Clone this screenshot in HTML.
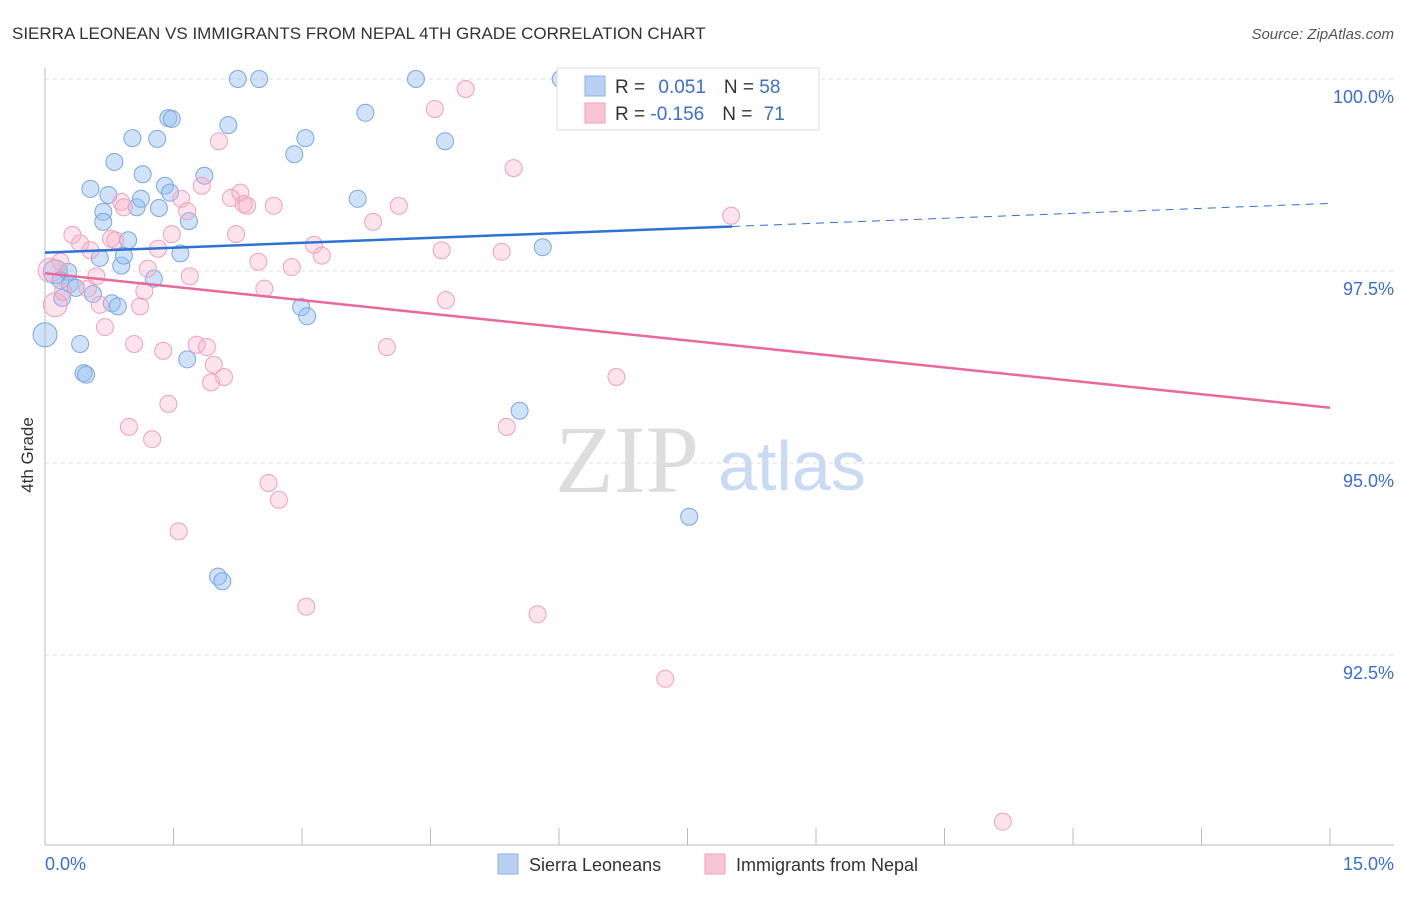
<!DOCTYPE html>
<html><head><meta charset="utf-8"><style>
body{margin:0;background:#fff;font-family:"Liberation Sans",sans-serif;}
svg text{font-family:"Liberation Sans",sans-serif;}
</style></head><body>
<svg id="chart" width="1406" height="892" viewBox="0 0 1406 892">
<text x="12" y="39" font-size="17" fill="#333">SIERRA LEONEAN VS IMMIGRANTS FROM NEPAL 4TH GRADE CORRELATION CHART</text>
<text x="1394" y="39" font-size="15" fill="#555" text-anchor="end" font-style="italic">Source: ZipAtlas.com</text>
<text transform="translate(33,455) rotate(-90)" font-size="17" fill="#333" text-anchor="middle">4th Grade</text>
<g id="grid"></g>
<g id="axes"></g>
<text x="555" y="492" font-size="96" fill="#ddd" font-family="Liberation Serif" style="font-family:'Liberation Serif',serif">ZIP</text>
<text x="718" y="490" font-size="70" fill="#c9daf3">atlas</text>
<g id="pts"></g>
<g id="lines"></g>
<g>
<rect x="557" y="68" width="262" height="62" fill="#fff" stroke="#ddd"/>
<rect x="585" y="76" width="20" height="20" fill="#b8d1f3" stroke="#8ab0e6"/>
<rect x="585" y="103" width="20" height="20" fill="#f8c5d5" stroke="#f0a0bc"/>
<text x="615" y="93" font-size="19" fill="#333">R = <tspan fill="#3a6fd0" dx="8">0.051</tspan><tspan dx="18" fill="#333">N = </tspan><tspan fill="#3a6fd0">58</tspan></text>
<text x="615" y="120" font-size="19" fill="#333">R = <tspan fill="#3a6fd0">-0.156</tspan><tspan dx="18" fill="#333">N = </tspan><tspan fill="#3a6fd0" dx="6">71</tspan></text>
</g>
<g>
<rect x="498" y="854" width="20" height="20" fill="#b8d1f3" stroke="#8ab0e6"/>
<text x="529" y="871" font-size="18" fill="#333">Sierra Leoneans</text>
<rect x="705" y="854" width="20" height="20" fill="#f8c5d5" stroke="#f0a0bc"/>
<text x="736" y="871" font-size="18" fill="#333">Immigrants from Nepal</text>
</g>
</svg>
<script>
const xTicks=[0,1.5,3,4.5,6,7.5,9,10.5,12,13.5,15];
const yTicks=[100,97.5,95,92.5];
const yTickLabels=["100.0%","97.5%","95.0%","92.5%"];
const blueX=[0,0.12,0.18,0.2,0.27,0.29,0.36,0.41,0.45,0.48,0.53,0.56,0.64,0.68,0.68,0.74,0.78,0.81,0.85,0.89,0.92,0.97,1.02,1.07,1.12,1.14,1.27,1.31,1.33,1.4,1.44,1.46,1.48,1.58,1.66,1.68,1.86,2.02,2.07,2.14,2.25,2.5,2.91,2.99,3.04,3.06,3.65,3.74,4.33,4.67,5.54,5.81,6.02,7.52];
const blueY=[96.67,97.49,97.38,97.15,97.49,97.33,97.28,96.55,96.17,96.15,98.57,97.2,97.67,98.27,98.14,98.49,97.08,98.92,97.04,97.57,97.7,97.9,99.23,98.33,98.44,98.76,97.4,99.22,98.32,98.61,99.49,98.52,99.48,97.73,96.35,98.15,98.74,93.52,93.46,99.4,100,100,99.02,97.03,99.23,96.91,98.44,99.56,100,99.19,95.68,97.81,100,94.3];
const pinkX=[0.06,0.12,0.18,0.21,0.32,0.41,0.5,0.53,0.6,0.64,0.7,0.77,0.82,0.89,0.92,0.98,1.04,1.11,1.16,1.2,1.25,1.32,1.38,1.44,1.48,1.56,1.59,1.66,1.69,1.77,1.83,1.89,1.94,1.97,2.03,2.09,2.17,2.23,2.28,2.32,2.36,2.49,2.56,2.61,2.67,2.73,2.88,3.05,3.14,3.23,3.83,3.99,4.13,4.55,4.63,4.68,4.91,5.33,5.39,5.47,5.75,6.2,6.32,6.67,7.13,7.24,8.01,11.18];
const pinkY=[97.51,97.06,97.62,97.23,97.97,97.86,97.27,97.77,97.43,97.06,96.77,97.92,97.9,98.4,98.33,95.47,96.55,97.04,97.24,97.53,95.31,97.79,96.46,95.77,97.98,94.11,98.44,98.28,97.43,96.54,98.61,96.51,96.05,96.28,99.19,96.12,98.45,97.98,98.52,98.37,98.35,97.62,97.27,94.74,98.35,94.52,97.55,93.13,97.84,97.7,98.14,96.51,98.35,99.61,97.77,97.12,99.87,97.75,95.47,98.84,93.03,100,99.69,96.12,100,92.19,98.22,90.33];
const blueTrend=[97.74,98.08];const blueTrendEnd=8.02;const blueDashEnd=98.38;
const pinkTrend=[97.47,95.72];
const NS="http://www.w3.org/2000/svg";
const X=v=>45+v/15*1285, Y=v=>79+(100-v)/2.5*192;
function mk(tag,attrs,parent){const e=document.createElementNS(NS,tag);for(const k in attrs)e.setAttribute(k,attrs[k]);parent.appendChild(e);return e;}
const grid=document.getElementById('grid'),axes=document.getElementById('axes');
yTicks.forEach((t,i)=>{
 const l=mk('line',{x1:45,x2:1394,y1:Y(t),y2:Y(t),stroke:'#ddd','stroke-dasharray':'4,4'},grid);
 
 
 const tx=mk('text',{x:1394,y:Y(t)+24,'font-size':18,fill:'#3a6fd0','text-anchor':'end'},axes);
 tx.textContent=yTickLabels[i];
 
 
});
const ax=mk('line',{x1:45,x2:1394,y1:845,y2:845,stroke:'#bbb'},axes);


const ay=mk('line',{x1:45,x2:45,y1:68,y2:845,stroke:'#bbb'},axes);


xTicks.forEach(t=>{const l=mk('line',{x1:X(t),x2:X(t),y1:828,y2:845,stroke:'#bbb'},axes);
 
 });
const xl0=mk('text',{x:45,y:870,'font-size':18,fill:'#3a6fd0'},axes);xl0.textContent='0.0%';


const xl1=mk('text',{x:1394,y:870,'font-size':18,fill:'#3a6fd0','text-anchor':'end'},axes);xl1.textContent='15.0%';


const pts=document.getElementById('pts');
function drawPts(xs,ys,fill,stroke,name){xs.forEach((v,i)=>{
 const r=(v<0.15&&i<2)?12:8.5;
 const c=mk('circle',{cx:X(v),cy:Y(ys[i]),r:r,fill:fill,stroke:stroke,'stroke-width':1},pts);
 
 });}
drawPts(blueX,blueY,'rgba(150,190,240,0.45)','#7aa7e0','sierra-leonean-point');
drawPts(pinkX,pinkY,'rgba(245,175,200,0.35)','#f0a0bc','nepal-immigrant-point');
const lines=document.getElementById('lines');
const bl=mk('line',{x1:X(0),y1:Y(blueTrend[0]),x2:X(blueTrendEnd),y2:Y(blueTrend[1]),stroke:'#2e72d2','stroke-width':2.5},lines);


const bd=mk('line',{x1:X(blueTrendEnd),y1:Y(blueTrend[1]),x2:X(15),y2:Y(blueDashEnd),stroke:'#2e72d2','stroke-width':1,'stroke-dasharray':'8,6'},lines);


const pl=mk('line',{x1:X(0),y1:Y(pinkTrend[0]),x2:X(15),y2:Y(pinkTrend[1]),stroke:'#e8699a','stroke-width':2.5},lines);


</script>
</body></html>
